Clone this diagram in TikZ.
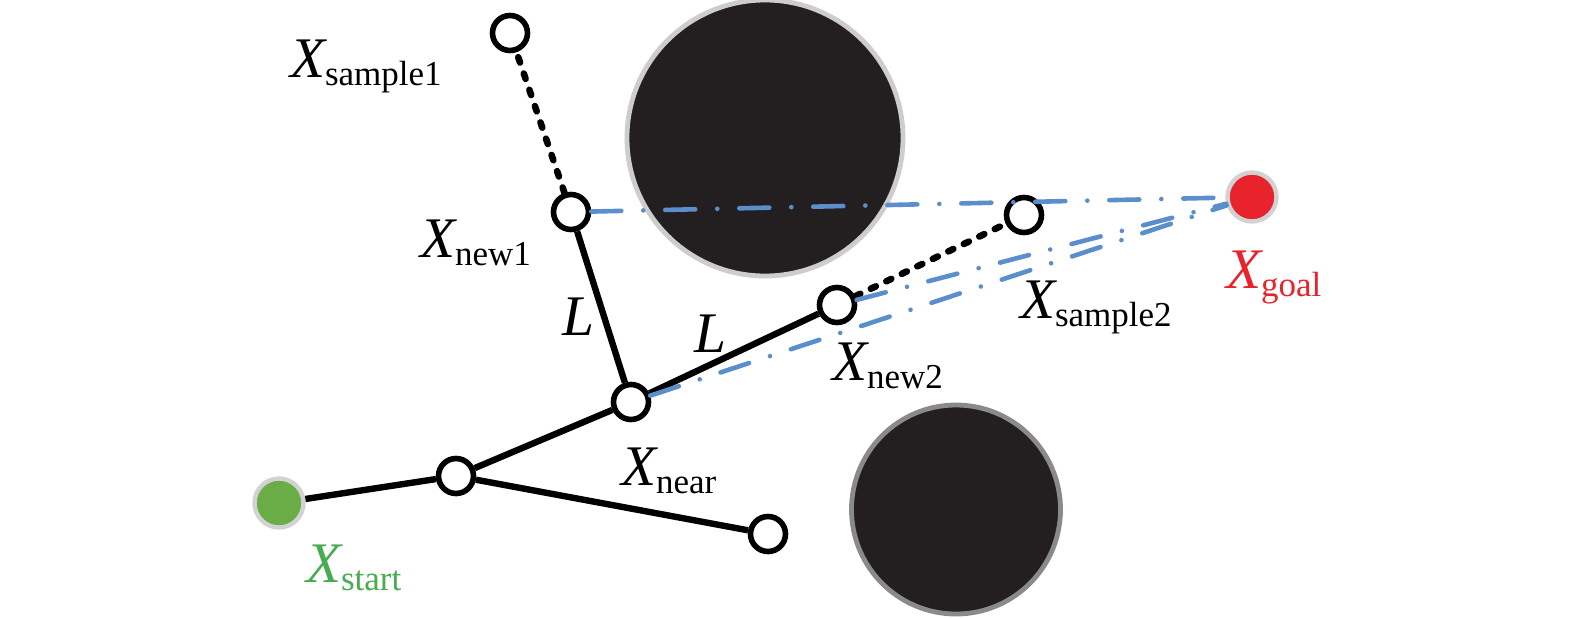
\documentclass[tikz,border=0pt]{standalone}
\usepackage{fontspec}
\setmainfont{Liberation Serif}
\newfontfamily\tms{Liberation Serif}
\definecolor{obst}{RGB}{35,31,32}
\definecolor{obstA}{RGB}{205,205,205}
\definecolor{obstB}{RGB}{138,138,138}
\definecolor{pathblue}{RGB}{91,143,203}
\definecolor{startgreen}{RGB}{106,172,70}
\definecolor{labgreen}{RGB}{72,172,80}
\definecolor{goalred}{RGB}{232,35,43}
\definecolor{ringgray}{RGB}{210,210,210}
\newcommand{\lab}[2]{{\tms\fontsize{28.7}{30}\selectfont\itshape #1}{\tms\fontsize{17.5}{18}\selectfont\raisebox{-4pt}{#2}}}
\tikzset{
  vtx/.style={circle,draw=black,fill=white,line width=2.8pt,minimum size=17.5pt,inner sep=0pt},
  term/.style={circle,draw=ringgray,line width=2.2pt,minimum size=24.5pt,inner sep=0pt},
  obstacle/.style={circle,fill=obst,line width=2.4pt,inner sep=0pt},
  tree/.style={line width=3.2pt,black},
  trial/.style={line width=3.3pt,black,dash pattern=on 2.8pt off 5.8pt,line cap=round},
  heur/.style={line width=2.3pt,pathblue,dash pattern=on 15pt off 11pt on 0.01pt off 11pt,line cap=round},
  lbl/.style={anchor=base west,inner sep=0pt,outer sep=0pt,text=black},
}
\begin{document}
\begin{tikzpicture}[x=0.5pt,y=-0.5pt]
\useasboundingbox (0,0) rectangle (1575,617);
% obstacles
\node[obstacle,draw=obstA,minimum size=138pt] (obs1) at (765,138) {};
\node[obstacle,draw=obstB,minimum size=104.5pt] (obs2) at (956,509.5) {};
% coordinates of tree vertices
\coordinate (ps) at (279,503);
\coordinate (pa) at (456,476);
\coordinate (pn) at (631,402);
\coordinate (pl) at (768,534);
\coordinate (p1) at (571,212);
\coordinate (p2) at (837,305);
\coordinate (q1) at (510,33);
\coordinate (q2) at (1024,215);
\coordinate (pg) at (1252,197);
% nodes
\node[term,fill=startgreen] (start) at (ps) {};
\node[term,fill=goalred] (goal) at (pg) {};
\node[vtx] (a) at (pa) {};
\node[vtx] (near) at (pn) {};
\node[vtx] (leaf) at (pl) {};
\node[vtx] (new1) at (p1) {};
\node[vtx] (new2) at (p2) {};
\node[vtx] (s1) at (q1) {};
\node[vtx] (s2) at (q2) {};
% edges
\draw[tree] (start) -- (a);
\draw[tree] (a) -- (near);
\draw[tree] (a) -- (leaf);
\draw[tree] (near) -- (new1);
\draw[tree] (near) -- (new2);
\draw[trial] (new1) -- (s1);
\draw[trial] (new2) -- (s2);
\draw[heur] (new1) -- (goal);
\draw[heur] (new2) -- (goal);
\draw[heur] (near) -- (goal);
% labels
\node[lbl] (ls1) at (290,77) {\lab{X}{sample1}};
\node[lbl] (ln1) at (420,257) {\lab{X}{new1}};
\node[lbl] (lL1) at (562,335) {\tms\fontsize{28.7}{30}\selectfont\itshape L};
\node[lbl] (lL2) at (694,352) {\tms\fontsize{28.7}{30}\selectfont\itshape L};
\node[lbl] (lnr) at (621,485) {\lab{X}{near}};
\node[lbl] (ln2) at (832,380) {\lab{X}{new2}};
\node[lbl] (ls2) at (1020,318) {\lab{X}{sample2}};
\node[lbl,text=goalred] (lg) at (1226,288) {\lab{X}{goal}};
\node[lbl,text=labgreen] (lst) at (306,582) {\lab{X}{start}};
\end{tikzpicture}
\end{document}
